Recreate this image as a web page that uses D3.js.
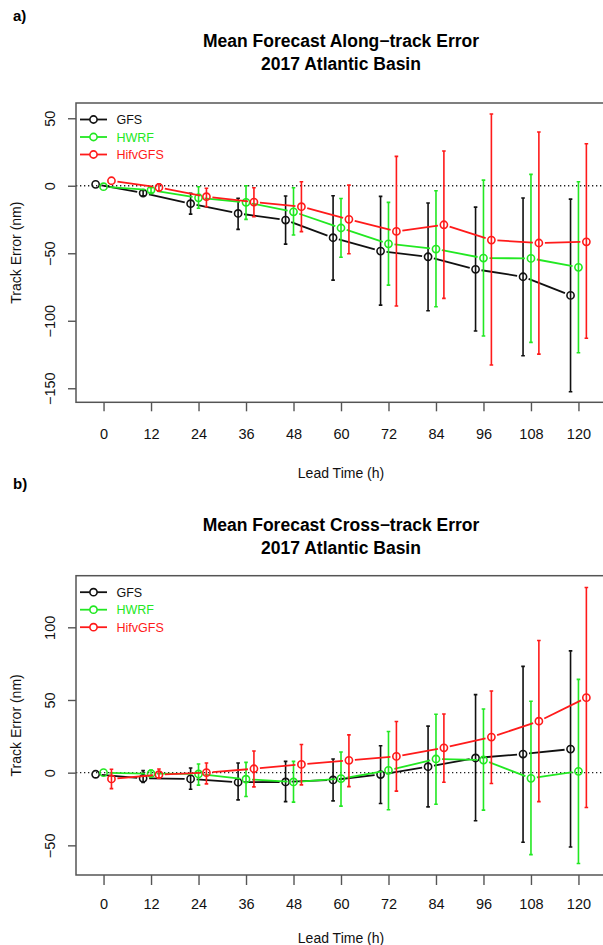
<!DOCTYPE html>
<html>
<head>
<meta charset="utf-8">
<script src="https://cdn.jsdelivr.net/npm/d3@7"></script>
<style>
body { margin: 0; background: white; }
text { font-family: "Liberation Sans", Arial, Helvetica, sans-serif; }
</style>
</head>
<body>
<div id="chart"></div>
<script>
// lead times (h)
var leadTimes = [0, 12, 24, 36, 48, 60, 72, 84, 96, 108, 120];
var seriesNames = ["GFS", "HWRF", "HifvGFS"];

// a) along-track error (nm): mean, lower and upper end of bar
var alongGFS     = [1.0, -5.4, -13.3, -20.5, -25.4, -38.5, -48.4, -52.6, -61.9, -67.4, -81.2];
var alongGFSLo   = [1.0, -7.4, -21.0, -32.3, -43.2, -69.9, -88.4, -92.6, -107.6, -125.9, -152.6];
var alongGFSHi   = [1.0, -3.4, -5.6, -9.3, -7.6, -7.4, -7.9, -12.8, -15.8, -9.1, -9.9];
var alongHWRF    = [-0.7, -3.2, -8.9, -12.3, -19.3, -31.3, -43.0, -46.9, -53.6, -53.8, -60.4];
var alongHWRFLo  = [-0.7, -5.0, -16.7, -24.9, -36.5, -53.0, -73.6, -89.6, -111.3, -116.0, -123.7];
var alongHWRFHi  = [-0.7, -1.5, -0.7, 0.0, -1.5, -9.4, -12.3, -3.7, 4.2, 8.4, 3.0];
var alongHifv    = [3.7, -1.2, -8.1, -12.1, -15.5, -24.9, -33.8, -28.9, -40.2, -42.4, -41.5];
var alongHifvLo  = [3.7, -4.0, -15.5, -23.0, -34.0, -50.4, -89.1, -83.4, -132.8, -124.7, -113.0];
var alongHifvHi  = [3.7, 1.5, -1.9, -1.5, 3.0, 0.5, 21.8, 25.7, 53.1, 39.8, 31.1];

// b) cross-track error (nm)
var crossGFS     = [-1.1, -3.9, -4.3, -6.6, -6.4, -5.0, -1.3, 4.1, 10.1, 12.8, 16.2];
var crossGFSLo   = [-1.1, -6.8, -11.4, -18.7, -19.9, -19.4, -21.2, -23.5, -33.1, -47.9, -51.1];
var crossGFSHi   = [-1.1, 1.4, 3.2, 6.6, 7.8, 9.4, 18.5, 32.0, 53.7, 73.1, 83.8];
var crossHWRF    = [0.0, -0.7, -0.9, -4.5, -6.4, -4.1, 1.6, 9.4, 8.7, -3.9, 0.9];
var crossHWRFLo  = [0.0, -2.7, -8.6, -16.4, -20.3, -23.0, -25.5, -21.7, -25.8, -56.4, -62.5];
var crossHWRFHi  = [0.0, 1.8, 6.0, 7.1, 7.8, 14.2, 28.3, 40.2, 43.8, 49.1, 64.2];
var crossHifv    = [-4.3, -1.4, 0.0, 2.7, 5.7, 8.5, 11.2, 17.1, 24.5, 35.4, 51.6];
var crossHifvLo  = [-11.0, -3.6, -7.7, -9.8, -8.4, -9.6, -12.7, -6.6, -7.5, -19.9, -24.0];
var crossHifvHi  = [2.3, 2.5, 6.6, 14.9, 19.4, 26.0, 35.2, 40.4, 56.2, 90.9, 127.4];

var alongTicks = [-150, -100, -50, 0, 50];
var crossTicks = [-50, 0, 50, 100];

var colors = ["#111111", "#22e822", "#ff1a1a"],
    xShift = [-2, 0, 2];

var W = 603, H = 945;

var svg = d3.select("#chart").append("svg")
    .attr("width", W)
    .attr("height", H)
    .style("background-color", "white");

function drawPanel(p) {
    var x = d3.scaleLinear().domain([-6.96, 126.96]).range([76, 606]);
    var y = d3.scaleLinear().domain(p.yDomain).range([p.bottom, p.top]);

    var g = svg.append("g");

    // panel letter and title
    g.append("text").attr("x", 13).attr("y", p.letterY)
        .style("font-size", "15px").style("font-weight", "bold").text(p.letter);
    p.title.forEach(function(t, i) {
        g.append("text").attr("x", 341).attr("y", p.titleY + i * 23)
            .attr("text-anchor", "middle")
            .style("font-size", "17.5px").style("font-weight", "bold")
            .text(t);
    });

    // zero reference line
    g.append("line")
        .attr("x1", 76).attr("x2", 606)
        .attr("y1", y(0)).attr("y2", y(0))
        .attr("stroke", "#222").attr("stroke-width", 1.3)
        .attr("stroke-dasharray", "1.3,2.7");

    // axes
    var ax = d3.axisBottom(x).tickValues(leadTimes).tickSize(p.tickLen)
        .tickPadding(p.xPad).tickSizeOuter(0);
    var gx = g.append("g").attr("transform", "translate(0," + p.bottom + ")").call(ax);
    gx.select(".domain").remove();
    gx.selectAll("line").attr("stroke", "#555").attr("stroke-width", 1.4);
    gx.selectAll("text").style("font-size", "14.5px").attr("fill", "#111")
        .style("font-family", "'Liberation Sans', Arial, sans-serif");

    var ay = d3.axisLeft(y).tickValues(p.yTicks).tickSize(8).tickSizeOuter(0);
    var gy = g.append("g").attr("transform", "translate(76,0)").call(ay);
    gy.select(".domain").remove();
    gy.selectAll("line").attr("stroke", "#555").attr("stroke-width", 1.4);
    gy.selectAll("text")
        .attr("transform", "rotate(-90)")
        .attr("x", 0).attr("y", -21).attr("dy", 0)
        .attr("text-anchor", "middle")
        .attr("fill", "#111")
        .style("font-size", "14.5px")
        .style("font-family", "'Liberation Sans', Arial, sans-serif");

    // axis titles
    g.append("text").attr("x", 341).attr("y", p.xTitleY)
        .attr("text-anchor", "middle").style("font-size", "14px").attr("fill", "#111")
        .text("Lead Time (h)");
    g.append("text")
        .attr("transform", "translate(21," + ((p.top + p.bottom) / 2) + ") rotate(-90)")
        .attr("text-anchor", "middle").style("font-size", "14px").attr("fill", "#111")
        .text("Track Error (nm)");

    // series
    var gap = 6;
    p.series.forEach(function(s, k) {
        var pts = leadTimes.map(function(t, i) {
            return { px: x(t + xShift[k]), py: y(s.mean[i]), lo: y(s.lo[i]), hi: y(s.hi[i]) };
        });
        var sg = g.append("g");

        // connecting segments, with gaps round the points (type "b")
        var segs = d3.pairs(pts).filter(function(d) {
            return Math.hypot(d[1].px - d[0].px, d[1].py - d[0].py) > 2 * gap;
        });
        sg.selectAll(".seg").data(segs).enter().append("line")
            .attr("class", "seg")
            .each(function(d) {
                var dx = d[1].px - d[0].px, dy = d[1].py - d[0].py,
                    len = Math.hypot(dx, dy), ux = dx / len, uy = dy / len;
                d3.select(this)
                    .attr("x1", d[0].px + ux * gap).attr("y1", d[0].py + uy * gap)
                    .attr("x2", d[1].px - ux * gap).attr("y2", d[1].py - uy * gap);
            })
            .attr("stroke", colors[k]).attr("stroke-width", 1.8);

        // error bars with small caps
        sg.selectAll(".bar").data(pts.filter(function(d) { return Math.abs(d.lo - d.hi) > 1; }))
            .enter().append("path")
            .attr("class", "bar")
            .attr("d", function(d) {
                return "M" + d.px + "," + d.hi + "V" + d.lo +
                    "M" + (d.px - 1.8) + "," + d.hi + "H" + (d.px + 1.8) +
                    "M" + (d.px - 1.8) + "," + d.lo + "H" + (d.px + 1.8);
            })
            .attr("fill", "none").attr("stroke", colors[k]).attr("stroke-width", 1.6);

        sg.selectAll("circle").data(pts).enter().append("circle")
            .attr("cx", function(d) { return d.px; })
            .attr("cy", function(d) { return d.py; })
            .attr("r", 3.6)
            .attr("fill", "none").attr("stroke", colors[k]).attr("stroke-width", 1.6);
    });

    // legend
    seriesNames.forEach(function(name, k) {
        var ly = p.top + 16.5 + k * 17.5;
        g.append("line").attr("x1", 80).attr("x2", 107).attr("y1", ly).attr("y2", ly)
            .attr("stroke", colors[k]).attr("stroke-width", 1.8);
        g.append("circle").attr("cx", 93.5).attr("cy", ly).attr("r", 3.6)
            .attr("fill", "white").attr("stroke", colors[k]).attr("stroke-width", 1.6);
        g.append("text").attr("x", 116.5).attr("y", ly).attr("dy", "0.36em")
            .attr("fill", colors[k]).style("font-size", "12.5px").text(name);
    });

    // plot box
    g.append("rect")
        .attr("x", 76).attr("y", p.top)
        .attr("width", 530).attr("height", p.bottom - p.top)
        .attr("fill", "none").attr("stroke", "#555").attr("stroke-width", 1.5);
}

drawPanel({
    letter: "a)", letterY: 21,
    title: ["Mean Forecast Along\u2212track Error", "2017 Atlantic Basin"], titleY: 47,
    top: 103, bottom: 402.3, yDomain: [-160.4, 61.3], yTicks: alongTicks,
    tickLen: 9, xPad: 17, xTitleY: 478,
    series: [
        { mean: alongGFS, lo: alongGFSLo, hi: alongGFSHi },
        { mean: alongHWRF, lo: alongHWRFLo, hi: alongHWRFHi },
        { mean: alongHifv, lo: alongHifvLo, hi: alongHifvHi }
    ]
});

drawPanel({
    letter: "b)", letterY: 489,
    title: ["Mean Forecast Cross\u2212track Error", "2017 Atlantic Basin"], titleY: 531,
    top: 575.7, bottom: 875, yDomain: [-70.4, 135.5], yTicks: crossTicks,
    tickLen: 10, xPad: 13.5, xTitleY: 943,
    series: [
        { mean: crossGFS, lo: crossGFSLo, hi: crossGFSHi },
        { mean: crossHWRF, lo: crossHWRFLo, hi: crossHWRFHi },
        { mean: crossHifv, lo: crossHifvLo, hi: crossHifvHi }
    ]
});
</script>
</body>
</html>
